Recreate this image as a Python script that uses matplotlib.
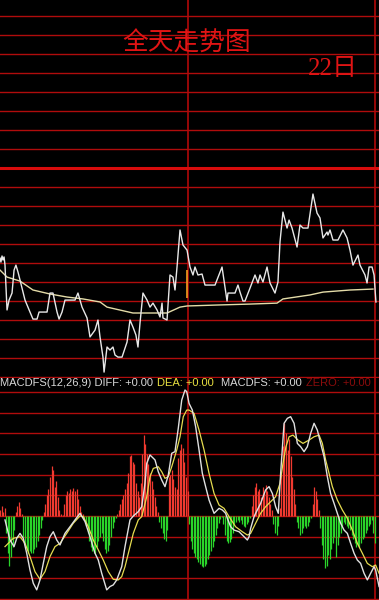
import matplotlib
matplotlib.use("Agg")
import matplotlib.pyplot as plt
import numpy as np

# ---------------- data ----------------
# intraday price, x = trading minute (0..240), y = price level in grid units (0 = previous close)
price_minute = [0, 0.6, 1.3, 1.9, 2.6, 3.2, 4.5, 5.8, 7.7, 9.0, 10.2, 11.5, 12.8, 16.0, 19.2, 21.1, 23.7,
                25.0, 30.1, 32.0, 33.9, 36.5, 37.8, 39.7, 41.6, 48.0, 49.9, 52.5, 55.7, 57.6, 60.8, 62.7,
                64.0, 65.9, 66.6, 68.5, 70.4, 72.3, 73.6, 75.5, 78.1, 81.3, 83.2, 85.1, 87.0, 88.3, 89.6,
                91.5, 94.1, 96.0, 97.9, 100.5, 102.4, 103.7, 104.3, 106.9, 108.8, 110.7, 112.0, 113.3,
                115.2, 117.1, 119.7, 121.6, 123.5, 124.8, 126.7, 129.3, 131.2, 137.6, 142.1, 145.3, 145.9,
                150.4, 152.3, 153.6, 155.5, 156.8, 160.0, 163.2, 165.1, 166.4, 168.3, 170.9, 172.8, 176.0,
                177.9, 179.2, 181.1, 183.7, 185.0, 186.9, 190.1, 192.0, 193.9, 197.1, 200.3, 202.9, 204.8,
                206.7, 209.3, 209.9, 211.2, 213.1, 216.3, 219.5, 222.1, 224.0, 225.9, 229.1, 230.4, 233.6,
                234.9, 236.2, 238.1, 239.4, 240.6]
price_level = [-4.74, -4.95, -4.63, -4.84, -4.68, -5.11, -7.47, -6.95, -6.58, -5.37, -5.11, -5.47, -5.89,
               -6.95, -7.58, -7.95, -7.95, -7.58, -7.58, -6.58, -6.58, -7.58, -7.95, -7.58, -6.95, -6.95,
               -6.58, -7.32, -7.89, -8.89, -8.53, -8.00, -8.89, -9.95, -10.74, -9.42, -9.58, -9.42, -9.84,
               -9.95, -9.95, -9.16, -8.00, -8.37, -8.79, -9.42, -8.16, -6.58, -6.95, -7.32, -7.11, -7.47,
               -7.84, -7.11, -7.89, -8.00, -5.63, -5.74, -6.42, -5.21, -3.26, -4.05, -4.32, -5.21, -5.63,
               -5.21, -5.63, -5.58, -6.16, -6.16, -5.21, -7.00, -6.58, -6.58, -6.16, -6.53, -7.00, -7.00,
               -6.32, -5.63, -6.05, -5.63, -6.00, -5.21, -6.05, -6.58, -6.00, -3.89, -2.32, -3.16, -2.74,
               -3.16, -4.16, -3.00, -3.16, -3.16, -1.37, -2.37, -2.63, -3.68, -3.37, -3.53, -3.26, -3.79,
               -3.79, -3.26, -3.68, -4.32, -5.11, -4.58, -5.11, -5.63, -6.05, -5.21, -5.21, -5.63, -7.05]

avg_minute = [0, 4.5, 12.8, 21.1, 32.0, 42.9, 53.1, 64.0, 68.5, 85.1, 106.9, 115.2, 119.7, 138.9, 160.0,
              177.3, 181.1, 198.4, 206.7, 224.0, 238.7]
avg_level = [-5.37, -5.74, -5.95, -6.42, -6.63, -6.79, -6.89, -7.05, -7.32, -7.63, -7.63, -7.32, -7.26,
             -7.21, -7.16, -7.11, -6.89, -6.68, -6.53, -6.42, -6.37]

mid_mark_minute = 119.7
mid_mark_range = (-6.84, -5.37)

# MACD histogram, one bar per minute (grid units)
macd_hist = [0.3, 0.5, 0.2, 0.4, -0.8, -1.8, -2.4, -2.0, -1.5, -0.7,
             0.2, 0.5, 0.7, 0.4, 0.1, -1.0, -1.4, -1.6, -1.8, -1.7,
             -1.8, -1.8, -1.6, -1.5, -1.2, -0.9, -0.6, -0.2, 0.2, 0.6,
             1.0, 1.3, 1.9, 2.4, 2.2, 1.4, 1.7, 0.9, 0.3, 0.1,
             0.05, 0.6, 1.0, 1.2, 1.1, 1.3, 1.2, 1.35, 1.2, 1.3,
             0.8, 0.5, 0.2, 0.1, -0.2, -0.5, -0.8, -1.2, -1.5, -1.7,
             -1.8, -1.8, -1.5, -1.2, -1.0, -0.8, -1.2, -1.6, -1.8, -1.7,
             -1.4, -1.0, -0.6, -0.3, -0.1, 0.1, 0.3, 0.6, 0.8, 1.0,
             1.3, 1.6, 2.1, 2.9, 2.95, 2.6, 2.5, 1.6, 1.2, 0.9,
             1.6, 3.0, 3.9, 3.5, 3.0, 2.5, 2.1, 1.7, 1.3, 0.9,
             0.5, 0.2, -0.3, -0.6, -0.8, -1.1, -1.2, -0.7, 1.9, 2.0,
             2.2, 1.8, 1.4, 1.3, 2.8, 3.2, 3.5, 3.3, 2.6, 1.9,
             1.2, -0.4, -1.2, -1.6, -1.8, -2.0, -2.1, -2.2, -2.3, -2.4,
             -2.45, -2.4, -2.3, -2.1, -1.9, -1.7, -1.5, -1.2, -0.9, -0.6,
             -0.35, -0.15, -0.05, -0.4, -0.9, -1.2, -1.3, -1.25, -1.1, -0.8,
             -0.4, -0.3, -0.2, -0.3, -0.2, -0.4, -0.5, -0.55, -0.4, -0.3,
             -0.1, 0.5, 1.0, 1.4, 1.6, 1.2, 1.3, 0.9, 1.4, 1.1,
             1.5, 1.2, 0.9, 0.6, 0.3, -0.4, -0.8, -0.9, -0.5, 0.4,
             2.0, 3.4, 4.5, 4.0, 3.2, 3.7, 2.9, 1.9, 1.3, 0.6,
             -0.3, -0.6, -0.9, -0.8, -0.6, -0.5, -0.6, -0.5, -0.3, -0.1,
             0.6, 1.4, 1.2, 0.8, 0.3, -0.6, -1.4, -2.1, -2.5, -2.4,
             -1.9, -2.1, -1.6, -1.3, -1.0, -2.0, -1.4, -1.0, -0.8, -0.5,
             -0.3, -0.4, -0.5, -0.6, -0.7, -0.9, -1.1, -1.3, -1.5, -1.4,
             -1.5, -1.3, -1.1, -1.0, -0.8, -0.7, -0.5, -0.4, -0.2, -0.8,
             -1.3]

diff_minute = [3.2, 6.4, 9.0, 10.7, 12.8, 14.9, 17.1, 19.2, 21.3, 23.5, 25.6, 27.7, 29.9, 32.0, 34.1, 36.3,
               38.4, 41.6, 44.8, 48.0, 51.2, 54.4, 57.6, 60.8, 62.9, 65.1, 68.3, 70.4, 72.5, 74.7, 77.9,
               80.0, 83.2, 85.3, 88.5, 90.7, 92.8, 93.9, 96.0, 99.2, 101.3, 103.5, 105.6, 107.7, 109.9,
               112.0, 114.1, 116.3, 118.4, 119.5, 121.0, 123.1, 125.2, 127.4, 129.5, 131.6, 133.8, 137.0,
               140.2, 142.3, 144.4, 145.5, 147.6, 149.8, 153.0, 156.2, 158.3, 159.4, 160.4, 162.6, 163.6,
               166.8, 170.0, 172.2, 174.3, 176.4, 178.1, 179.6, 181.8, 183.9, 186.0, 188.2, 190.3, 192.4,
               194.6, 196.7, 198.8, 201.0, 203.1, 205.2, 207.4, 209.5, 211.6, 213.8, 215.9, 218.0, 220.2,
               222.3, 224.4, 226.6, 228.7, 230.8, 233.0, 235.1, 237.2, 239.4, 240.4, 242.6]
diff_value = [-0.19, -1.16, -1.48, -1.08, -0.84, -1.08, -1.80, -2.61, -3.25, -3.57, -3.09, -2.29, -1.48,
              -1.00, -0.76, -1.16, -1.40, -0.84, -0.52, -0.19, 0.13, -0.27, -1.00, -1.80, -2.13, -2.77,
              -3.57, -3.41, -3.33, -3.09, -2.45, -1.48, -0.19, 0.0, 0.21, 0.45, 1.58, 2.54, 2.95, 2.71,
              2.14, 1.74, 1.42, 1.98, 3.03, 3.11, 4.24, 5.60, 6.09, 6.01, 5.44, 5.12, 4.32, 3.19, 2.06,
              1.42, 0.77, 0.13, 0.37, 0.29, 0.13, -0.11, -0.52, -0.68, -0.76, -1.00, -1.16, -1.00, -0.60,
              -0.03, 0.13, 0.61, 1.26, 1.42, 1.09, 0.45, 0.13, 2.06, 4.48, 4.72, 4.80, 4.48, 3.51, 3.35,
              3.11, 3.35, 3.99, 4.48, 4.15, 3.51, 2.87, 1.90, 1.09, 0.61, 0.13, -0.35, -0.68, -0.84, -1.32,
              -1.80, -2.13, -2.29, -2.77, -3.09, -2.77, -2.45, -2.61, -3.41]

dea_minute = [3.2, 8.5, 12.8, 16.0, 19.2, 22.4, 25.6, 28.8, 32.0, 35.2, 38.4, 42.7, 46.9, 51.2, 53.3, 56.5,
              59.7, 62.9, 66.1, 69.3, 72.5, 75.7, 77.9, 80.0, 83.2, 85.3, 88.5, 90.7, 93.9, 96.0, 98.1,
              101.3, 103.5, 105.6, 107.7, 109.9, 113.1, 115.2, 117.3, 119.5, 121.0, 124.2, 127.4, 130.6,
              133.8, 137.0, 140.2, 143.4, 146.6, 150.8, 155.1, 158.3, 160.4, 163.6, 166.8, 170.0, 173.2,
              176.4, 179.2, 181.1, 183.0, 185.0, 187.5, 190.7, 193.9, 197.8, 201.0, 204.2, 206.3, 208.4,
              210.6, 212.7, 215.9, 219.1, 222.3, 225.5, 228.7, 231.9, 235.1, 238.3, 240.4, 242.6]
dea_value = [-1.48, -1.08, -1.00, -1.32, -1.96, -2.69, -3.06, -2.69, -1.96, -1.48, -1.32, -0.84, -0.35,
             0.0, -0.03, -0.52, -1.16, -1.64, -2.13, -2.69, -3.06, -3.09, -2.93, -2.45, -1.48, -0.84,
             -0.19, -0.03, 0.93, 1.90, 2.30, 2.38, 2.14, 1.82, 1.90, 2.38, 3.19, 3.83, 4.80, 5.12, 5.12,
             4.96, 4.15, 3.19, 2.06, 1.09, 0.53, 0.37, -0.03, -0.52, -0.76, -0.92, -0.84, -0.35, 0.13,
             0.45, 0.69, 0.93, 1.58, 2.54, 3.35, 3.83, 3.91, 3.67, 3.51, 3.67, 3.83, 3.91, 3.51, 2.71,
             2.06, 1.42, 0.77, 0.29, -0.11, -0.68, -1.32, -1.80, -2.29, -2.45, -2.37, -2.77]

title_text = "全天走势图"
date_text = "22日"
label_parts = [("MACDFS(12,26,9) DIFF: +0.00", "#d8d8d8"),
               ("DEA: +0.00", "#e8e040"),
               ("MACDFS: +0.00", "#d8d8d8"),
               ("ZERO: +0.00", "#8a0c0c")]

# ---------------- figure ----------------
W, H = 379, 600
fig = plt.figure(figsize=(W / 100, H / 100), dpi=100, facecolor="black")

grid_col = "#b00c0c"
top_px = 378
ax1 = fig.add_axes([0, 1 - top_px / H, 1, top_px / H])
ax2 = fig.add_axes([0, 0, 1, (H - top_px) / H])
x_max = W / 1.5625

for ax in (ax1, ax2):
    ax.set_facecolor("black")
    ax.set_xlim(0, x_max)
    for s in ax.spines.values():
        s.set_visible(False)
    ax.set_xticks([])
    ax.set_yticks([])
    for xv in (120, 240):
        ax.axvline(xv, color="#c00a0a", lw=1.1, zorder=1)

ax1.set_ylim(-11.05, 8.84)
for g in range(-11, 9):
    if g == 0:
        ax1.axhline(g, color="#d80c0c", lw=2.2, zorder=1)
    else:
        ax1.axhline(g, color=grid_col, lw=1.0, zorder=1)

ax2.set_ylim(-4.06, 6.67)
for g in range(-4, 7):
    ax2.axhline(g, color=grid_col, lw=1.0, zorder=1)

# price panel
ax1.plot(avg_minute, avg_level, color="#e4dca8", lw=1.0, zorder=3)
ax1.plot(price_minute, price_level, color="#e8e8e8", lw=1.0, zorder=4)
ax1.vlines(mid_mark_minute, mid_mark_range[0], mid_mark_range[1], color="#f0a020", lw=1.2, zorder=5)

# MACD panel
hist = np.array(macd_hist)
minutes = np.arange(len(hist))
pos = hist > 0
ax2.vlines(minutes[pos], 0, hist[pos], color="#f03a30", lw=0.9, zorder=2)
ax2.vlines(minutes[~pos], 0, hist[~pos], color="#2ad42a", lw=0.9, zorder=2)
ax2.plot(dea_minute, dea_value, color="#e6dc50", lw=0.9, zorder=3)
ax2.plot(diff_minute, diff_value, color="#e0e0e0", lw=1.0, zorder=4)

# texts
fig.text(187 / W, 1 - 44 / H, title_text, color="#e01414", fontsize=18.5,
         family=["Noto Sans CJK SC"], ha="center", va="center")
fig.text(333 / W, 1 - 69 / H, date_text, color="#e01414", fontsize=18,
         family=["Liberation Serif", "Noto Sans CJK SC"], ha="center", va="center")

label_x = [0.5, 157, 221, 306]
for (txt, col), lx in zip(label_parts, label_x):
    fig.text(lx / W, 1 - 383 / H, txt, color=col, fontsize=8.0,
             family=["Liberation Sans"], ha="left", va="center")

fig.savefig("out.png", dpi=100, facecolor="black")
